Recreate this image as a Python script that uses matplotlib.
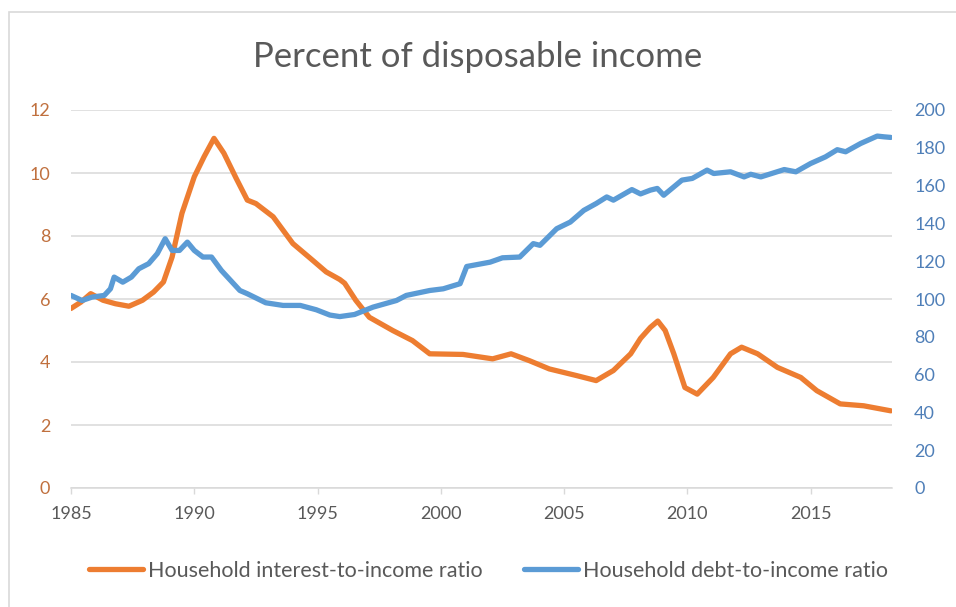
import matplotlib.pyplot as plt
from matplotlib.patches import Rectangle

plt.rcParams['font.family'] = ['Lato', 'DejaVu Sans']

# 家計の利払い比率（左軸, %）
int_year = [1985.0, 1985.4, 1985.8, 1986.3, 1986.8, 1987.35, 1987.9, 1988.35, 1988.75,
            1989.1, 1989.5, 1990.0, 1990.4, 1990.8, 1991.2, 1991.7, 1992.15, 1992.5,
            1993.2, 1994.0, 1994.8, 1995.35, 1995.9, 1996.1, 1996.55, 1997.1, 1998.05,
            1998.85, 1999.55, 2000.9, 2002.1, 2002.85, 2003.6, 2004.4, 2005.5, 2006.3,
            2007.0, 2007.7, 2008.1, 2008.5, 2008.8, 2009.1, 2009.45, 2009.9, 2010.4, 2011.05,
            2011.75, 2012.2, 2012.85, 2013.65, 2014.6, 2015.25, 2016.2, 2017.15, 2018.25]
int_ratio = [5.70, 5.90, 6.17, 5.96, 5.85, 5.77, 5.96, 6.22, 6.54,
             7.33, 8.72, 9.88, 10.52, 11.10, 10.63, 9.83, 9.14, 9.03,
             8.61, 7.76, 7.23, 6.86, 6.62, 6.50, 5.96, 5.42, 5.00,
             4.68, 4.26, 4.24, 4.10, 4.26, 4.04, 3.78, 3.57, 3.41,
             3.73, 4.26, 4.75, 5.10, 5.30, 5.00, 4.26, 3.19, 2.98, 3.51,
             4.26, 4.47, 4.26, 3.83, 3.51, 3.09, 2.67, 2.61, 2.45]

# 家計の債務比率（右軸, %）
debt_year = [1985.0, 1985.45, 1985.85, 1986.35, 1986.6, 1986.75, 1987.1, 1987.45, 1987.75,
             1988.15, 1988.5, 1988.82, 1989.1, 1989.4, 1989.72, 1990.0, 1990.35, 1990.7,
             1991.1, 1991.85, 1992.15, 1992.9, 1993.6, 1994.3, 1994.95, 1995.5, 1995.9,
             1996.5, 1997.25, 1998.2, 1998.6, 1999.55, 2000.1, 2000.78, 2001.05, 2002.0,
             2002.5, 2003.2, 2003.75, 2004.02, 2004.7, 2005.25, 2005.8, 2006.3, 2006.73,
             2007.0, 2007.75, 2008.1, 2008.5, 2008.78, 2009.04, 2009.78, 2010.2, 2010.8,
             2011.07, 2011.75, 2012.3, 2012.57, 2012.98, 2013.93, 2014.4, 2015.0, 2015.6,
             2016.08, 2016.42, 2017.03, 2017.7, 2017.98, 2018.25]
debt_ratio = [101.9, 99.2, 101.0, 101.9, 105.4, 111.6, 108.9, 111.6, 116.0,
              118.7, 124.0, 131.9, 125.7, 125.7, 130.1, 125.7, 122.2, 122.2,
              115.1, 104.5, 102.8, 98.0, 96.6, 96.6, 94.3, 91.5, 90.7,
              91.8, 95.7, 99.2, 101.9, 104.5, 105.4, 108.1, 117.2, 119.5,
              121.8, 122.2, 129.3, 128.4, 137.2, 140.7, 146.9, 150.5, 154.0,
              152.3, 157.9, 155.6, 157.6, 158.5, 154.9, 162.9, 163.8, 168.2,
              166.4, 167.3, 164.6, 166.0, 164.6, 168.5, 167.3, 171.7, 175.2,
              179.0, 177.9, 182.3, 186.2, 185.8, 185.5]

x_ticks = [1985, 1990, 1995, 2000, 2005, 2010, 2015]
left_ticks = [0, 2, 4, 6, 8, 10, 12]
right_ticks = [0, 20, 40, 60, 80, 100, 120, 140, 160, 180, 200]

orange = '#ED7D31'
blue = '#5B9BD5'
gray_txt = '#595959'

fig = plt.figure(figsize=(9.56, 6.07), dpi=100)
fig.patches.append(Rectangle((9 / 956, -0.1), 1.1, 1.1 - 12 / 607, transform=fig.transFigure,
                             fill=False, edgecolor='#D9D9D9', linewidth=1.2))

ax = fig.add_axes([71 / 956, 1 - 488 / 607, (892 - 71) / 956, (488 - 110) / 607])
ax2 = ax.twinx()

ax.plot(int_year, int_ratio, color=orange, linewidth=3.8, solid_capstyle='round',
        solid_joinstyle='round', label='Household interest-to-income ratio', zorder=3)
ax2.plot(debt_year, debt_ratio, color=blue, linewidth=3.8, solid_capstyle='round',
         solid_joinstyle='round', label='Household debt-to-income ratio', zorder=3)

ax.set_xlim(1985, 2018.3)
ax.set_ylim(0, 12)
ax2.set_ylim(0, 200)
ax.set_xticks(x_ticks)
ax.set_yticks(left_ticks)
ax2.set_yticks(right_ticks)

ax.yaxis.grid(True, color='#D9D9D9', linewidth=1.1)
ax.set_axisbelow(True)

for a in (ax, ax2):
    for s in a.spines.values():
        s.set_visible(False)
ax.spines['bottom'].set_visible(True)
ax.spines['bottom'].set_color('#D9D9D9')
ax.spines['bottom'].set_linewidth(1.1)

ax.tick_params(axis='x', direction='out', length=4, width=1, color='#D9D9D9',
               pad=9, labelsize=13, labelcolor=gray_txt)
ax.tick_params(axis='y', length=0, pad=15, labelsize=13, labelcolor='#C0703E')
ax2.tick_params(axis='y', length=0, pad=16, labelsize=13, labelcolor='#4F7FB8')

fig.text(0.5, 1 - 57 / 607, 'Percent of disposable income', ha='center', va='center',
         fontsize=25, color=gray_txt)

h1, l1 = ax.get_legend_handles_labels()
h2, l2 = ax2.get_legend_handles_labels()
fig.legend(h1 + h2, l1 + l2, loc='center', bbox_to_anchor=(0.511, 1 - 571 / 607), ncol=2,
           frameon=False, fontsize=15.5, handlelength=2.5, handletextpad=0.25,
           columnspacing=1.9, labelcolor=gray_txt)

fig.savefig('out.png', dpi=100)
